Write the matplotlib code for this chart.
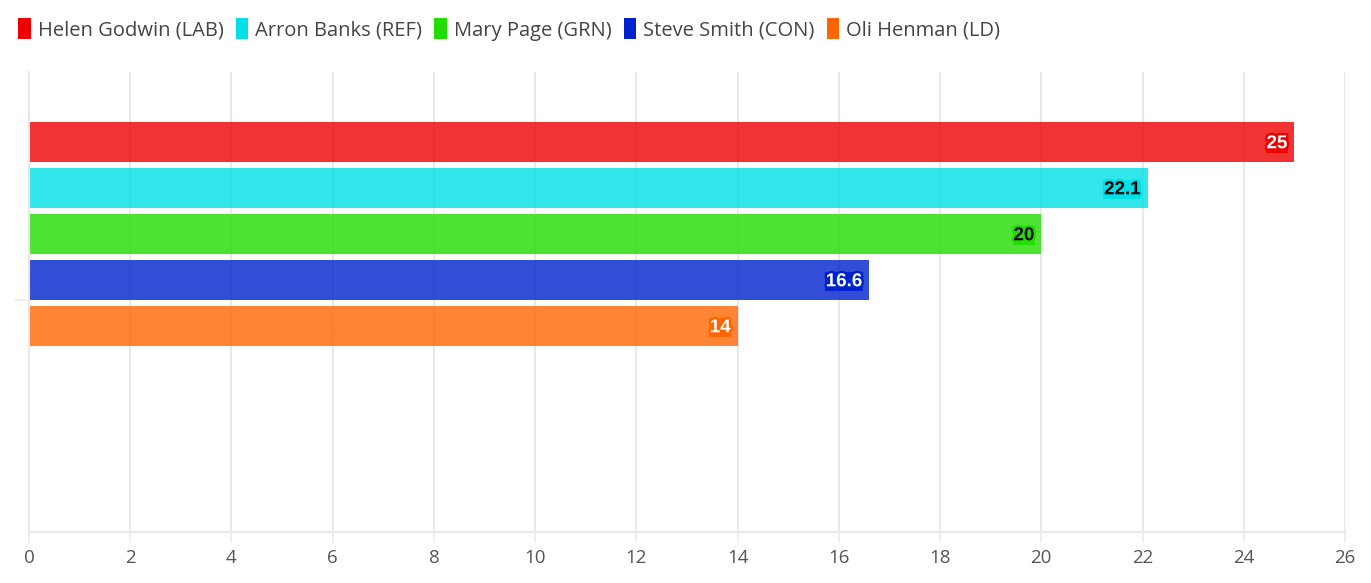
import numpy as np
import matplotlib.pyplot as plt
import matplotlib.patheffects as pe
from matplotlib.patches import Patch

candidates = ["Helen Godwin (LAB)", "Arron Banks (REF)", "Mary Page (GRN)",
              "Steve Smith (CON)", "Oli Henman (LD)"]
votes = [25, 22.1, 20, 16.6, 14]
colors = ["#EE0000", "#00E0E6", "#22DD00", "#0022CC", "#FF6600"]
label_colors = ["white", "black", "black", "white", "white"]

fig = plt.figure(figsize=(13.71, 5.83), dpi=100)
ax = fig.add_axes([29 / 1371, 1 - 532 / 583, 1316 / 1371, 460 / 583])

pos = np.arange(len(votes)) + 1.52
for i, (v, c) in enumerate(zip(votes, colors)):
    ax.barh(pos[i], v, height=0.87, color=c, alpha=0.8, zorder=2)
    ax.text(v - 0.14, pos[i] + 0.04, f"{v:g}", ha="right", va="center",
            fontsize=13.5, fontweight="bold", color=label_colors[i],
            family="Liberation Sans", zorder=4,
            bbox=dict(boxstyle="square,pad=0.05", fc=c, ec="none"),
            path_effects=[pe.withStroke(linewidth=3.5, foreground=c)])

ax.set_xlim(0, 26)
ax.set_ylim(10, 0)
ax.set_xticks(np.arange(0, 27, 2))
ax.set_yticks([4.96])
ax.set_yticklabels([""])
ax.tick_params(axis="y", length=10, width=1.5, color="#eeeeee")
ax.tick_params(axis="x", length=8, width=1.5, color="#eeeeee",
               labelsize=13.5, labelcolor="#555555", pad=4)
for lbl in ax.get_xticklabels():
    lbl.set_family("Open Sans")
ax.grid(axis="x", color="#e8e8e8", linewidth=1.5, zorder=0)
for s in ["top", "right"]:
    ax.spines[s].set_visible(False)
ax.spines["bottom"].set_color("#e8e8e8")
ax.spines["bottom"].set_linewidth(1.5)
ax.spines["left"].set_color("#e8e8e8")
ax.spines["left"].set_linewidth(1.5)

handles = [Patch(facecolor=c, edgecolor="none") for c in colors]
leg = fig.legend(handles, candidates, loc="upper left", ncol=5,
                 bbox_to_anchor=(0.0, 1.0), frameon=False,
                 handlelength=0.62, handleheight=1.25, handletextpad=0.35,
                 columnspacing=0.6, prop={"family": "Open Sans", "size": 14.5})
for t in leg.get_texts():
    t.set_color("#444444")

fig.savefig("out.png", dpi=100)
